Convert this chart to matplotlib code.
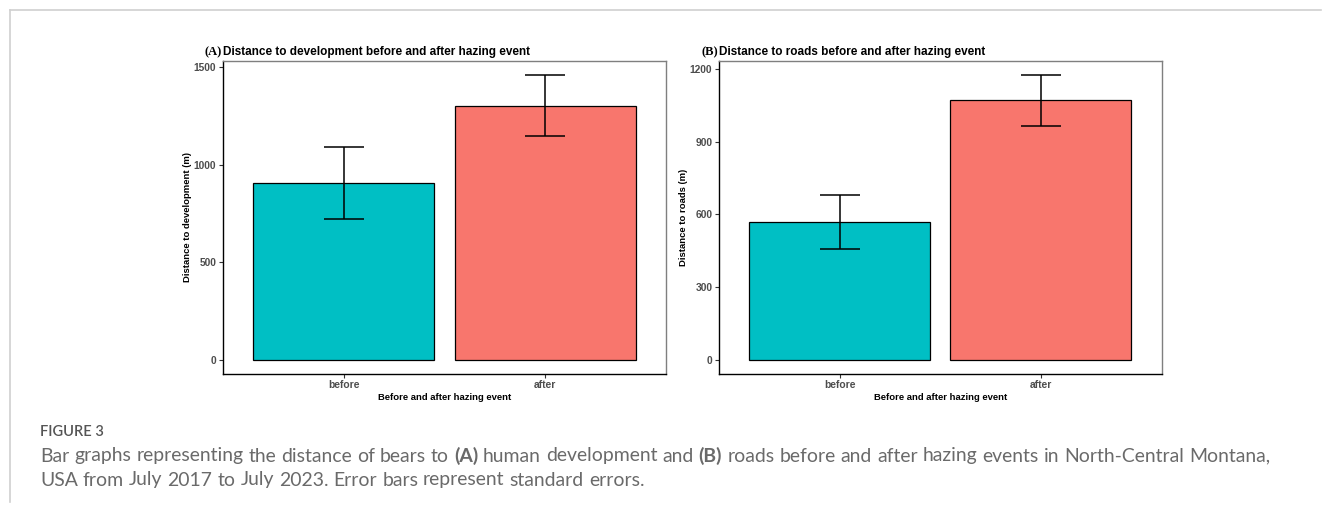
import numpy as np
import matplotlib
matplotlib.use("Agg")
import matplotlib.pyplot as plt
from matplotlib.lines import Line2D

# ── Data ───────────────────────────────────────────────────────────────────────
groups = ["before", "after"]
dev_mean = [906, 1303]
dev_se = [186, 156]
road_mean = [568, 1070]
road_se = [113, 104]
dev_ticks = [0, 500, 1000, 1500]
road_ticks = [0, 300, 600, 900, 1200]

# ── Style ──────────────────────────────────────────────────────────────────────
W, H, DPI = 1322, 514, 100
TEAL = "#00BFC4"
SALMON = "#F8766D"
TICKCOL = "#4D4D4D"
SANS = "Liberation Sans"
SERIF = "Liberation Serif"

fig = plt.figure(figsize=(W / DPI, H / DPI), dpi=DPI, facecolor="white")


def px_axes(left, top, right, bottom):
    return fig.add_axes([left / W, 1 - bottom / H, (right - left) / W, (bottom - top) / H])


def bar_panel(ax, means, ses, ticks, tag, title, ylabel):
    x = np.arange(1, len(groups) + 1)
    ax.bar(x, means, width=0.9, color=[TEAL, SALMON], edgecolor="black", linewidth=0.9, zorder=2)
    lo = np.array(means) - np.array(ses)
    hi = np.array(means) + np.array(ses)
    ax.vlines(x, lo, hi, color="black", lw=1.1, zorder=3)
    ax.hlines(lo, x - 0.1, x + 0.1, color="black", lw=1.1, zorder=3)
    ax.hlines(hi, x - 0.1, x + 0.1, color="black", lw=1.1, zorder=3)

    top = hi.max()
    ax.set_ylim(-0.05 * top, 1.05 * top)
    ax.set_xlim(0.4, len(groups) + 0.6)
    ax.set_yticks(ticks)
    ax.set_xticks(x)
    ax.set_xticklabels(groups)
    for lab in ax.get_xticklabels() + ax.get_yticklabels():
        lab.set_fontfamily(SANS)
        lab.set_fontweight("bold")
        lab.set_fontsize(7.4)
        lab.set_color(TICKCOL)
    ax.tick_params(length=3, width=0.8, color="#333333", pad=2)
    ax.tick_params(axis="x", pad=1.5)

    for s in ["top", "right"]:
        ax.spines[s].set_color("#7F7F7F")
        ax.spines[s].set_linewidth(1.0)
    for s in ["left", "bottom"]:
        ax.spines[s].set_color("black")
        ax.spines[s].set_linewidth(1.0)

    ax.set_xlabel("Before and after hazing event", fontfamily=SANS, fontweight="bold",
                  fontsize=6.8, labelpad=2)
    ax.set_ylabel(ylabel, fontfamily=SANS, fontweight="bold", fontsize=6.8, labelpad=1)

    ax.text(0, 1.019, title, transform=ax.transAxes, ha="left", va="baseline",
            fontfamily=SANS, fontweight="bold", fontsize=8.5)
    ax.text(-0.003, 1.019, tag, transform=ax.transAxes, ha="right", va="baseline",
            fontfamily=SERIF, fontweight="bold", fontsize=9)


axA = px_axes(223.3, 61, 665.7, 374)
bar_panel(axA, dev_mean, dev_se, dev_ticks, "(A)",
          "Distance to development before and after hazing event",
          "Distance to development (m)")

axB = px_axes(719.3, 61, 1161.5, 374)
bar_panel(axB, road_mean, road_se, road_ticks, "(B)",
          "Distance to roads before and after hazing event",
          "Distance to roads (m)")

# ── Page frame lines ───────────────────────────────────────────────────────────
fig.add_artist(Line2D([9.5 / W, 9.5 / W], [1 - 9.5 / H, 1 - 502 / H],
                      transform=fig.transFigure, color="#D0D0D0", lw=1.2))
fig.add_artist(Line2D([9.5 / W, 1321 / W], [1 - 9.5 / H, 1 - 9.5 / H],
                      transform=fig.transFigure, color="#D0D0D0", lw=1.2))

# ── Caption ────────────────────────────────────────────────────────────────────
CAP = "Lato"
CAPCOL = "#6A6A6A"
fig.text(40 / W, 1 - 432 / H, "FIGURE 3", fontfamily=CAP, fontsize=10.5,
         fontweight="semibold", color="#555555", va="center", ha="left")

renderer = fig.canvas.get_renderer()


def text_width(s, size, weight):
    t = fig.text(0, 0, s, fontfamily=CAP, fontsize=size, fontweight=weight)
    w = t.get_window_extent(renderer).width
    t.remove()
    return w


def rich_line(x_px, y_px, parts, size, draw=True):
    space = text_width("a a", size, "normal") - text_width("aa", size, "normal")
    x = x_px
    for i, (s, weight) in enumerate(parts):
        words = s.split(" ")
        for j, wd in enumerate(words):
            if wd:
                t = fig.text(x / W, 1 - y_px / H, wd, fontfamily=CAP, fontsize=size,
                             fontweight=weight, color=CAPCOL, va="center", ha="left")
                x += t.get_window_extent(renderer).width
                if not draw:
                    t.remove()
            if j < len(words) - 1:
                x += space
        if i < len(parts) - 1:
            x += space
    return x


line1 = [("Bar graphs representing the distance of bears to", "normal"),
         ("(A)", "bold"),
         ("human development and", "normal"),
         ("(B)", "bold"),
         ("roads before and after hazing events in North-Central Montana,", "normal")]
line2 = [("USA from July 2017 to July 2023. Error bars represent standard errors.", "normal")]

# fit caption width to the reference line length
end10 = rich_line(40, 456, line1, 10, draw=False)
capsize = 10 * (1275 - 40) / (end10 - 40)
rich_line(40, 456, line1, capsize)
rich_line(40, 480, line2, capsize)

fig.savefig("out.png", dpi=DPI, facecolor="white")
